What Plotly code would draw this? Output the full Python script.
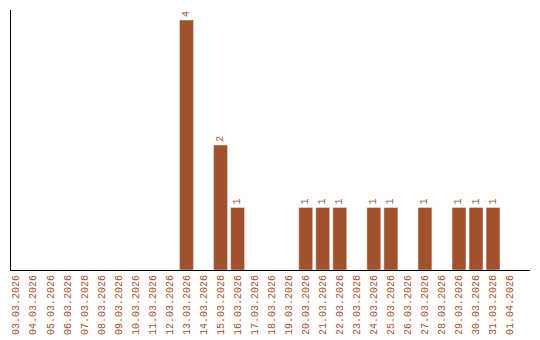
import plotly.graph_objects as go

dates = ["03.03.2026", "04.03.2026", "05.03.2026", "06.03.2026", "07.03.2026",
         "08.03.2026", "09.03.2026", "10.03.2026", "11.03.2026", "12.03.2026",
         "13.03.2026", "14.03.2026", "15.03.2026", "16.03.2026", "17.03.2026",
         "18.03.2026", "19.03.2026", "20.03.2026", "21.03.2026", "22.03.2026",
         "23.03.2026", "24.03.2026", "25.03.2026", "26.03.2026", "27.03.2026",
         "28.03.2026", "29.03.2026", "30.03.2026", "31.03.2026", "01.04.2026"]
counts = [0, 0, 0, 0, 0, 0, 0, 0, 0, 0,
          4, 0, 2, 1, 0, 0, 0, 1, 1, 1,
          0, 1, 1, 0, 1, 0, 1, 1, 1, 0]

color = "#a0522d"
labels = [str(v) if v > 0 else "" for v in counts]

fig = go.Figure(go.Bar(
    x=dates, y=counts, marker_color=color, width=0.82,
    text=labels, textposition="outside", textangle=-90,
    textfont=dict(family="Liberation Mono", size=10, color=color),
    cliponaxis=False,
))

fig.update_layout(
    width=540, height=340,
    margin=dict(l=11, r=10, t=10, b=70, autoexpand=False),
    paper_bgcolor="white", plot_bgcolor="white",
    showlegend=False,
    uniformtext=dict(minsize=10, mode="show"),
)
fig.update_xaxes(
    type="category", range=[-0.305, 30.17], automargin=False,
    showline=True, linecolor="black", linewidth=1,
    showgrid=False, ticks="", tickangle=-90,
    tickfont=dict(family="Liberation Mono", size=10, color=color),
)
fig.update_yaxes(
    range=[0, 4.16], showline=True, linecolor="black", linewidth=1,
    showgrid=False, zeroline=False, showticklabels=False, ticks="",
    automargin=False,
)

fig.write_html("out.html")
